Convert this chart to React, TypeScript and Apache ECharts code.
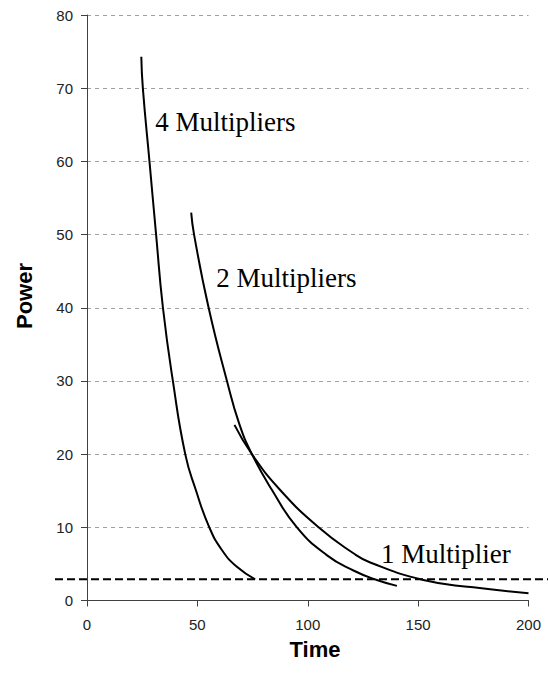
import React, { useEffect, useRef } from 'react';
import * as echarts from 'echarts';

// Axis ranges / ticks
const xMin = 0;
const xMax = 200;
const xInterval = 50;
const yMin = 0;
const yMax = 80;
const yInterval = 10;

// 4 Multipliers curve
const mult4Time = [24.6, 25.3, 28.3, 31.3, 34.4, 38.9, 44.5, 49.3, 55.4, 61.1, 67.9, 76.2];
const mult4Power = [74.3, 70, 60, 50, 40, 30, 20, 15.1, 10, 6.9, 4.6, 2.9];

// 2 Multipliers curve
const mult2Time = [47.2, 48.5, 55.1, 63.4, 68.9, 74.7, 83.8, 95.1, 108.6, 120.7, 131.3, 140.4];
const mult2Power = [53.0, 50, 40, 30, 24.2, 20, 15.1, 10, 6.2, 4.1, 2.8, 2.0];

// 1 Multiplier curve
const mult1Time = [66.8, 74.7, 87.5, 104.9, 120.7, 128.3, 152.4, 175, 200];
const mult1Power = [24.0, 20, 15.1, 10, 6.45, 5.2, 2.8, 1.8, 1.0];

// Horizontal dashed threshold
const thresholdPower = 2.9;

// Curve annotations (left edge time, vertical middle power)
const labelTexts = ['4 Multipliers', '2 Multipliers', '1 Multiplier'];
const labelTime = [30.9, 58.5, 133.2];
const labelPower = [65.4, 44.1, 6.35];

const zip = (a: number[], b: number[]) => a.map((v, i) => [v, b[i]]);

export default function App() {
  const ref = useRef<HTMLDivElement>(null);

  useEffect(() => {
    document.body.style.margin = '0';
    if (!ref.current) return;
    const chart = echarts.init(ref.current, null, { renderer: 'svg' });

    const lineSeries = (name: string, data: number[][]) => ({
      name,
      type: 'line',
      data,
      smooth: 0.5,
      showSymbol: false,
      symbol: 'none',
      lineStyle: { color: '#000', width: 2 },
      z: 3,
    });

    chart.setOption({
      animation: false,
      backgroundColor: '#fff',
      grid: { left: 87, right: 19.5, top: 15, bottom: 78.5, containLabel: false },
      xAxis: {
        type: 'value',
        min: xMin,
        max: xMax,
        interval: xInterval,
        axisLine: { show: true, lineStyle: { color: '#404040', width: 1 } },
        axisTick: { show: true, inside: false, length: 6, lineStyle: { color: '#404040' } },
        axisLabel: { color: '#222', fontFamily: 'Liberation Sans', fontSize: 15, margin: 16 },
        splitLine: { show: false },
      },
      yAxis: {
        type: 'value',
        min: yMin,
        max: yMax,
        interval: yInterval,
        axisLine: { show: true, lineStyle: { color: '#404040', width: 1 } },
        axisTick: { show: true, inside: false, length: 6, lineStyle: { color: '#404040' } },
        axisLabel: { color: '#222', fontFamily: 'Liberation Sans', fontSize: 15, margin: 14 },
        splitLine: { show: true, lineStyle: { color: '#a0a0a0', type: [4, 4], width: 1 } },
      },
      series: [
        lineSeries('4 Multipliers', zip(mult4Time, mult4Power)),
        lineSeries('2 Multipliers', zip(mult2Time, mult2Power)),
        lineSeries('1 Multiplier', zip(mult1Time, mult1Power)),
      ],
    });

    const toPx = (t: number, p: number) =>
      chart.convertToPixel({ gridIndex: 0 }, [t, p]) as number[];

    const thrY = toPx(0, thresholdPower)[1];
    const graphics: any[] = [
      {
        type: 'line',
        shape: { x1: 55, y1: thrY, x2: 548, y2: thrY },
        style: { stroke: '#000', lineWidth: 2, lineDash: [8, 4] },
        z: 10,
      },
      {
        type: 'text',
        x: 315,
        y: 649,
        style: {
          text: 'Time',
          font: 'bold 22px "Liberation Sans", Arial, sans-serif',
          fill: '#000',
          textAlign: 'center',
          textVerticalAlign: 'middle',
        },
      },
      {
        type: 'text',
        x: 24,
        y: 296,
        rotation: Math.PI / 2,
        style: {
          text: 'Power',
          font: 'bold 22px "Liberation Sans", Arial, sans-serif',
          fill: '#000',
          textAlign: 'center',
          textVerticalAlign: 'middle',
        },
      },
    ];
    labelTexts.forEach((txt, i) => {
      const [px, py] = toPx(labelTime[i], labelPower[i]);
      graphics.push({
        type: 'text',
        x: px,
        y: py,
        style: {
          text: txt,
          font: '27px "Liberation Serif", "Times New Roman", serif',
          fill: '#000',
          textAlign: 'left',
          textVerticalAlign: 'middle',
        },
        z: 11,
      });
    });
    chart.setOption({ graphic: graphics });

    return () => chart.dispose();
  }, []);

  return <div ref={ref} style={{ width: 548, height: 679 }} />;
}
